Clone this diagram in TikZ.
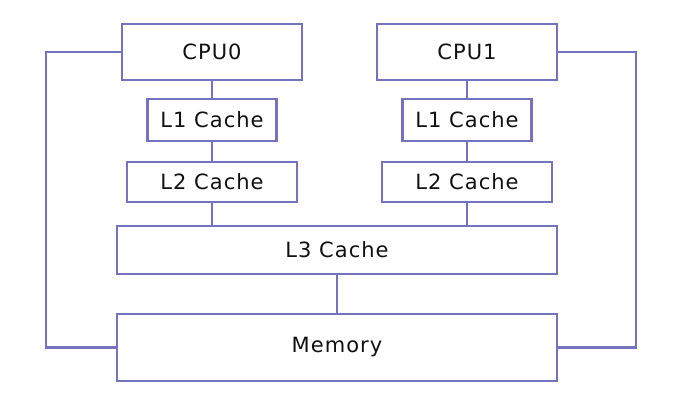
\documentclass[tikz,border=0pt]{standalone}
\usepackage{fontspec}
\usepackage{xcolor}
\newfontfamily\boxfont[LetterSpace=5]{DejaVu Sans}
\definecolor{wire}{HTML}{7373BF}
\newcommand\lbl[1]{\fontsize{21}{24}\selectfont\boxfont\textcolor[HTML]{111111}{#1}}

\begin{document}
\begin{tikzpicture}[x=1pt,y=-1pt]
	\tikzset{unit/.style={draw=wire, line width=2.5pt, fill=white, inner sep=0pt}}
	\useasboundingbox (0,0) rectangle (700,400);

	\node[unit, minimum width=180pt, minimum height=56pt] (cpu0) at (212,52) {\lbl{CPU0}};
	\node[unit, minimum width=180pt, minimum height=56pt] (cpu1) at (467,52) {\lbl{CPU1}};
	\node[unit, minimum width=129pt, minimum height=42pt] (l1a) at (212,120) {\lbl{L1 Cache}};
	\node[unit, minimum width=129pt, minimum height=42pt] (l1b) at (467,120) {\lbl{L1 Cache}};
	\node[unit, minimum width=170pt, minimum height=40pt] (l2a) at (212,182) {\lbl{L2 Cache}};
	\node[unit, minimum width=170pt, minimum height=40pt] (l2b) at (467,182) {\lbl{L2 Cache}};
	\node[unit, minimum width=440pt, minimum height=48pt] (l3) at (337,250) {\lbl{L3 Cache}};
	\node[unit, minimum width=440pt, minimum height=67pt] (mem) at (337,347.5) {\lbl{Memory}};

	\coordinate (lbend) at (46,52);
	\coordinate (rbend) at (636,52);

	\draw[wire, line width=2.5pt] (cpu0) -- (l1a);
	\draw[wire, line width=2.5pt] (l1a) -- (l2a);
	\draw[wire, line width=2.5pt] (cpu1) -- (l1b);
	\draw[wire, line width=2.5pt] (l1b) -- (l2b);
	\draw[wire, line width=2.5pt] (l2a.south) -- (l2a.south |- l3.north);
	\draw[wire, line width=2.5pt] (l2b.south) -- (l2b.south |- l3.north);
	\draw[wire, line width=2.5pt] (l3.south) -- (mem.north);
	\draw[wire, line width=2.5pt] (cpu0.west) -- (lbend) |- (mem.west);
	\draw[wire, line width=2.5pt] (cpu1.east) -- (rbend) |- (mem.east);
\end{tikzpicture}
\end{document}
